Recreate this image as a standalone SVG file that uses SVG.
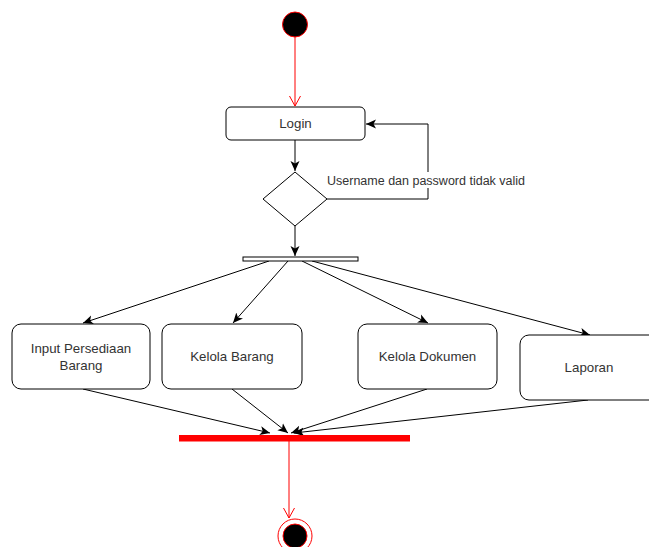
<svg xmlns="http://www.w3.org/2000/svg" width="649" height="547" viewBox="0 0 649 547">
<defs>
<marker id="ah" markerUnits="userSpaceOnUse" markerWidth="12" markerHeight="10" refX="10" refY="5" orient="auto">
<path d="M0,0.5 L10,5 L0,9.5 L2.5,5 z" fill="#000"/>
</marker>
<marker id="ro" markerUnits="userSpaceOnUse" markerWidth="14" markerHeight="14" refX="11" refY="7" orient="auto">
<path d="M1,1.5 L11,7 L1,12.5" fill="none" stroke="#ff0000" stroke-width="1"/>
</marker>
<style>
.box{fill:#fff;stroke:#000;stroke-width:1}
.t{font-family:"Liberation Sans",Arial,sans-serif;font-size:13.3px;fill:#333;text-anchor:middle}
.e{fill:none;stroke:#000;stroke-width:1;marker-end:url(#ah)}
.r{fill:none;stroke:#ff0000;stroke-width:1;marker-end:url(#ro)}
</style>
</defs>
<g id="connectors">
<path class="r" d="M295,37 L295,106"/>
<path class="e" d="M295,140 L295,171"/>
<path class="e" d="M327,199 L428,199 L428,124 L366,124"/>
<path class="e" d="M295,226 L295,256"/>
<path class="e" d="M269,261 L83,323"/>
<path class="e" d="M288,261 L233,323"/>
<path class="e" d="M302,261 L428,323"/>
<path class="e" d="M312,261 L590,335"/>
<path class="e" d="M83,389 L270,433"/>
<path class="e" d="M232,389 L288,433"/>
<path class="e" d="M427,389 L291,433"/>
<path class="e" d="M588,400 L294,433"/>
<path class="r" d="M289,441 L289,518"/>
<g id="edge-label">
<rect x="326" y="172" width="203" height="16" fill="#fff"/>
<text x="327" y="184.5" font-family="'Liberation Sans',Arial,sans-serif" font-size="12.5" fill="#333">Username dan password tidak valid</text>
</g>
</g>
<g id="start"><circle cx="295" cy="24.5" r="12.5" fill="#000" stroke="#ff0000" stroke-width="1"/></g>
<g id="login"><rect class="box" x="226" y="107" width="139" height="33" rx="5"/><text class="t" x="295.5" y="128">Login</text></g>
<g id="decision"><path class="box" d="M295,172 L327,199 L295,226 L263,199 z"/></g>
<g id="fork"><rect x="243" y="257" width="115" height="4" fill="#fff" stroke="#000" stroke-width="1"/></g>
<g id="input"><rect class="box" x="12" y="324" width="138" height="65" rx="9"/><text class="t" x="81" y="353">Input Persediaan</text><text class="t" x="81" y="370">Barang</text></g>
<g id="kelola-barang"><rect class="box" x="162" y="324" width="140" height="65" rx="9"/><text class="t" x="232" y="361">Kelola Barang</text></g>
<g id="kelola-dokumen"><rect class="box" x="358" y="324" width="139" height="65" rx="9"/><text class="t" x="427.5" y="361">Kelola Dokumen</text></g>
<g id="laporan"><rect class="box" x="520" y="335" width="138" height="65" rx="9"/><text class="t" x="589" y="372">Laporan</text></g>
<g id="join"><rect x="179" y="435" width="231" height="6.5" fill="#ff0000"/></g>
<g id="end"><circle cx="295" cy="536" r="17" fill="#fff" stroke="#ff0000" stroke-width="1"/><circle cx="295" cy="536" r="12" fill="#000" stroke="#ff0000" stroke-width="1"/></g>
</svg>
